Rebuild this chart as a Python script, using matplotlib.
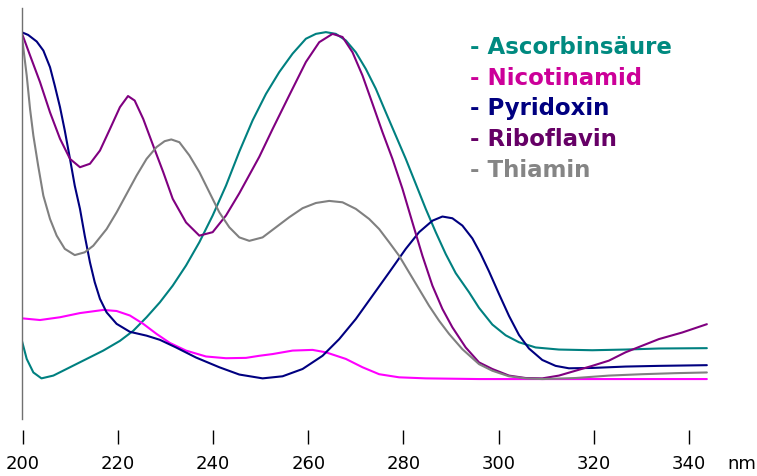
import numpy as np
import matplotlib
matplotlib.use('Agg')
import matplotlib.pyplot as plt

# wavelength (nm) / relative absorbance
asc_nm = [199.7, 200.8, 202.2, 203.9, 206.4, 209.9, 213.4, 216.9, 220.4, 223.2, 226.0, 228.8,
          231.5, 234.3, 237.1, 239.9, 242.7, 245.5, 248.3, 251.1, 253.9, 256.7, 259.5, 261.6,
          263.7, 265.8, 267.9, 270.0, 272.1, 274.2, 276.3, 278.4, 280.5, 282.6, 284.7, 286.8,
          288.9, 291.0, 293.8, 295.9, 298.7, 301.5, 304.3, 307.8, 312.7, 319.7, 326.7, 333.7,
          343.8]
asc_a = [0.115, 0.058, 0.019, 0.002, 0.010, 0.034, 0.058, 0.082, 0.110, 0.139, 0.178, 0.221,
         0.269, 0.327, 0.394, 0.471, 0.557, 0.655, 0.745, 0.821, 0.884, 0.937, 0.980, 0.994,
         0.999, 0.994, 0.975, 0.941, 0.893, 0.836, 0.768, 0.701, 0.634, 0.562, 0.490, 0.423,
         0.360, 0.305, 0.250, 0.205, 0.157, 0.126, 0.106, 0.091, 0.085, 0.083, 0.085, 0.088,
         0.089]

nic_nm = [199.7, 203.6, 207.8, 212.0, 216.9, 219.7, 222.5, 225.3, 228.1, 230.9, 234.3, 238.5,
          242.7, 246.9, 249.7, 252.5, 256.7, 260.9, 263.7, 267.9, 271.4, 274.9, 279.1, 284.7,
          295.9, 343.8]
nic_a = [0.175, 0.170, 0.178, 0.190, 0.199, 0.196, 0.183, 0.159, 0.130, 0.104, 0.082, 0.065,
         0.060, 0.061, 0.067, 0.072, 0.082, 0.084, 0.077, 0.058, 0.034, 0.014, 0.005, 0.002,
         0.000, 0.000]

pyr_nm = [199.7, 201.1, 202.9, 204.3, 205.7, 206.7, 207.8, 208.8, 209.9, 210.9, 212.0, 213.0,
          214.1, 215.1, 216.2, 217.6, 219.7, 222.5, 226.0, 228.8, 232.2, 236.4, 241.3, 245.5,
          250.4, 254.6, 258.8, 263.0, 266.5, 270.0, 273.5, 277.0, 280.5, 283.3, 286.1, 288.2,
          290.3, 292.4, 294.5, 296.2, 298.0, 300.1, 302.2, 304.3, 306.4, 309.2, 312.0, 314.8,
          319.7, 326.7, 333.7, 343.8]
pyr_a = [0.999, 0.991, 0.972, 0.946, 0.898, 0.845, 0.783, 0.716, 0.634, 0.557, 0.490, 0.413,
         0.336, 0.279, 0.231, 0.192, 0.159, 0.136, 0.125, 0.113, 0.091, 0.062, 0.034, 0.013,
         0.002, 0.008, 0.029, 0.067, 0.115, 0.173, 0.240, 0.307, 0.375, 0.423, 0.456, 0.468,
         0.463, 0.442, 0.405, 0.362, 0.310, 0.245, 0.182, 0.127, 0.088, 0.055, 0.038, 0.031,
         0.032, 0.036, 0.038, 0.040]

rib_nm = [199.7, 201.5, 203.6, 205.7, 207.8, 209.9, 212.0, 214.1, 216.2, 218.3, 220.4, 222.1,
          223.5, 225.3, 227.4, 229.5, 231.5, 234.3, 237.1, 239.9, 242.7, 245.5, 248.3, 249.7,
          252.5, 256.0, 259.5, 262.3, 265.1, 267.2, 269.3, 271.4, 273.5, 275.6, 277.7, 279.8,
          281.9, 284.0, 286.1, 288.2, 290.3, 293.1, 295.9, 298.7, 302.2, 305.7, 309.2, 312.7,
          316.2, 319.7, 323.2, 326.7, 330.2, 333.7, 338.6, 343.8]
rib_a = [0.999, 0.932, 0.855, 0.768, 0.692, 0.634, 0.610, 0.620, 0.658, 0.720, 0.783, 0.815,
         0.802, 0.749, 0.672, 0.596, 0.519, 0.451, 0.413, 0.423, 0.471, 0.535, 0.605, 0.640,
         0.720, 0.817, 0.913, 0.970, 0.994, 0.985, 0.941, 0.874, 0.793, 0.711, 0.634, 0.548,
         0.451, 0.355, 0.269, 0.202, 0.149, 0.091, 0.048, 0.029, 0.010, 0.003, 0.002, 0.010,
         0.024, 0.038, 0.053, 0.077, 0.096, 0.115, 0.134, 0.158]

thi_nm = [199.7, 200.2, 200.8, 201.5, 202.2, 203.2, 204.3, 205.7, 207.1, 208.8, 210.9, 213.0,
          214.8, 217.6, 219.7, 221.8, 223.9, 226.0, 228.1, 229.8, 231.2, 232.9, 235.0, 237.1,
          239.2, 241.3, 243.4, 245.5, 247.6, 250.4, 253.2, 256.0, 258.8, 261.6, 264.4, 267.2,
          270.0, 272.8, 274.9, 277.0, 279.1, 281.2, 283.3, 285.4, 287.5, 289.6, 292.4, 295.9,
          298.7, 302.2, 305.7, 309.2, 316.2, 323.2, 330.2, 337.2, 343.8]
thi_a = [0.999, 0.941, 0.874, 0.778, 0.701, 0.615, 0.528, 0.461, 0.413, 0.375, 0.357, 0.365,
         0.384, 0.432, 0.480, 0.533, 0.586, 0.634, 0.668, 0.685, 0.690, 0.682, 0.644, 0.596,
         0.538, 0.480, 0.437, 0.408, 0.398, 0.408, 0.437, 0.466, 0.492, 0.507, 0.513, 0.509,
         0.490, 0.461, 0.432, 0.394, 0.355, 0.307, 0.259, 0.211, 0.168, 0.130, 0.086, 0.043,
         0.024, 0.008, 0.002, 0.000, 0.003, 0.010, 0.014, 0.017, 0.019]

names = ['Ascorbinsäure', 'Nicotinamid', 'Pyridoxin', 'Riboflavin', 'Thiamin']
line_cols = ['#008080', '#ff00ff', '#000080', '#800080', '#808080']
text_cols = ['#008a80', '#cc0099', '#000080', '#660066', '#858585']
xticks = [200, 220, 240, 260, 280, 300, 320, 340]

fig = plt.figure(figsize=(7.57, 4.77), dpi=100)
ax = fig.add_axes([0.029, 0.1195, 0.906, 0.862])

series = [(asc_nm, asc_a), (nic_nm, nic_a), (pyr_nm, pyr_a), (rib_nm, rib_a), (thi_nm, thi_a)]
for (x, y), c in zip(series, line_cols):
    ax.plot(x, y, color=c, lw=1.5, solid_joinstyle='round', solid_capstyle='round')

ax.set_xlim(199.8, 344)
ax.set_ylim(-0.115, 1.069)

for s in ['top', 'right']:
    ax.spines[s].set_visible(False)
ax.spines['left'].set_color('#707070')
ax.spines['left'].set_linewidth(1.0)
ax.spines['bottom'].set_position(('outward', 8))
ax.spines['bottom'].set_color('none')
ax.set_yticks([])
ax.set_xticks(xticks)
ax.tick_params(axis='x', direction='out', length=10, width=1.0, color='black',
               pad=7, labelsize=13)

fig.text(742 / 757, 1 - 464 / 477, 'nm', ha='center', va='center', fontsize=13)

for i, (n, c) in enumerate(zip(names, text_cols)):
    ax.text(0.653, 0.906 - i * 0.0747, '- ' + n, transform=ax.transAxes,
            color=c, fontsize=16.5, fontweight='bold', va='center', ha='left')

fig.savefig('out.png', dpi=100)
